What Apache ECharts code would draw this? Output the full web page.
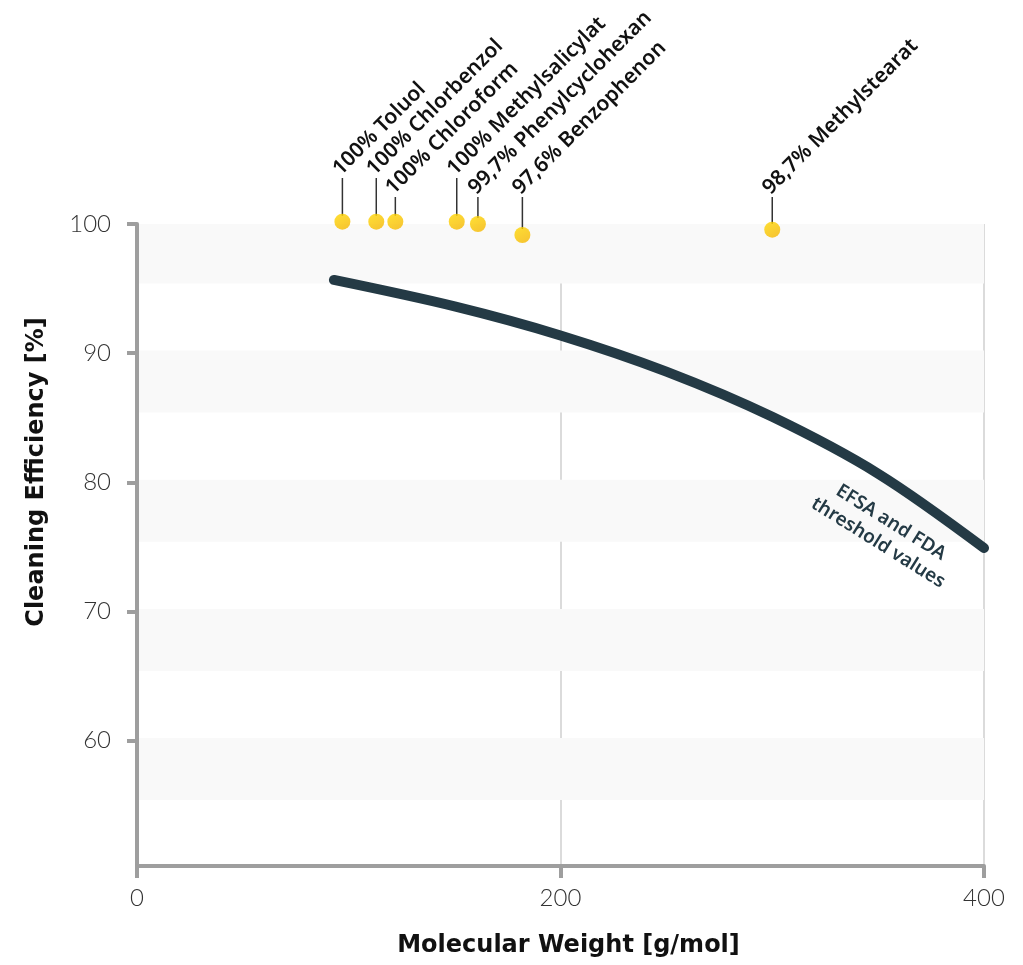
<!DOCTYPE html>
<html>
<head>
<meta charset="utf-8">
<script src="https://cdn.jsdelivr.net/npm/echarts@6/dist/echarts.min.js"></script>
<style>
html,body{margin:0;padding:0;background:#fff;}
#c{width:1023px;height:965px;}
</style>
</head>
<body>
<div id="c"></div>
<script>
// ---- data ----
const solventNames = ['100% Toluol','100% Chlorbenzol','100% Chloroform','100% Methylsalicylat','99,7% Phenylcyclohexan','97,6% Benzophenon','98,7% Methylstearat'];
const solventMW = [97, 113, 122, 151, 161, 182, 300];
const solventEff = [100.18, 100.18, 100.18, 100.18, 100.0, 99.15, 99.56];
const curveMW = [93, 150, 200, 250, 300, 350, 400];
const curveEff = [95.67, 93.62, 91.37, 88.57, 85.07, 80.67, 74.92];
const yTicks = [60, 70, 80, 90, 100];
const xTicks = [0, 200, 400];
const bandRanges = [[100.2, 95.4], [90.2, 85.4], [80.2, 75.4], [70.2, 65.4], [60.2, 55.4]];
const thresholdLabel = 'EFSA and FDA\nthreshold values';
const thresholdAt = [353, 76.1];
// label layout (pixels above the 100% line where leader ends)
const labelLift = [46, 46, 27, 46, 27, 27, 27];

const chart = echarts.init(document.getElementById('c'));
const dotColor = {type:'linear', x:0, y:0, x2:0.6, y2:1, colorStops:[{offset:0,color:'#ffd800'},{offset:1,color:'#f6b900'}]};

const option = {
  animation: false,
  backgroundColor: '#fff',
  grid: {left: 137, right: 39, top: 224, bottom: 99, containLabel: false},
  xAxis: {
    type: 'value', min: 0, max: 400, interval: 200, z: 1,
    name: 'Molecular Weight [g/mol]', nameLocation: 'middle', nameGap: 68,
    nameTextStyle: {fontFamily: 'DejaVu Sans', fontWeight: 'bold', fontSize: 24, color: '#111', padding: [0, 0, 0, 16]},
    axisLine: {show: true, lineStyle: {color: '#9e9e9e', width: 4}},
    axisTick: {show: true, length: 12, lineStyle: {color: '#9e9e9e', width: 4}},
    axisLabel: {fontFamily: 'Lato', fontWeight: 300, fontSize: 24, color: '#333', margin: 20,
      customValues: xTicks},
    splitLine: {show: true, lineStyle: {color: '#cfcfcf', width: 1.5}}
  },
  yAxis: {
    type: 'value', min: 50.3, max: 100, z: 1,
    name: 'Cleaning Efficiency [%]', nameLocation: 'middle', nameGap: 88, nameRotate: 90,
    nameTextStyle: {fontFamily: 'DejaVu Sans', fontWeight: 'bold', fontSize: 24, color: '#111', padding: [0, 0, 0, 146]},
    axisLine: {show: true, lineStyle: {color: '#9e9e9e', width: 4}},
    axisTick: {show: true, length: 10, lineStyle: {color: '#9e9e9e', width: 4}, customValues: yTicks},
    axisLabel: {fontFamily: 'Lato', fontWeight: 300, fontSize: 24, color: '#333', margin: 26, customValues: yTicks},
    splitLine: {show: false}
  },
  series: [
    {
      type: 'line', data: [], z: 0, silent: true,
      markArea: {
        silent: true,
        itemStyle: {color: '#f9f9f9'},
        data: bandRanges.map(b => [{yAxis: b[0]}, {yAxis: b[1]}])
      }
    },
    {
      type: 'line', z: 3, smooth: 0.33, symbol: 'none',
      data: curveMW.map((x, i) => [x, curveEff[i]]),
      lineStyle: {color: '#243a45', width: 10, cap: 'round', join: 'round'},
      markPoint: {
        symbol: 'circle', symbolSize: 0,
        data: [{coord: thresholdAt}],
        label: {show: true, position: 'inside', formatter: thresholdLabel, rotate: -32,
          fontFamily: 'Noto Sans', fontWeight: 600, fontSize: 19, color: '#243a45', lineHeight: 24, align: 'center'}
      }
    },
    {
      type: 'custom', z: 4, clip: false,
      data: solventMW.map((x, i) => [x, solventEff[i], i]),
      renderItem: function (params, api) {
        const i = api.value(2);
        const p = api.coord([api.value(0), api.value(1)]);
        const top = api.coord([api.value(0), 100])[1] - labelLift[i];
        return {
          type: 'group',
          children: [
            {type: 'line', shape: {x1: p[0], y1: p[1] - 6, x2: p[0], y2: top}, style: {stroke: '#333', lineWidth: 1.5}},
            {type: 'text', x: p[0] - 6, y: top - 6, rotation: Math.PI / 4,
              style: {text: solventNames[i], x: 0, y: 0, align: 'left', verticalAlign: 'middle',
                font: '600 21px "Noto Sans"', fill: '#111'}}
          ]
        };
      }
    },
    {
      type: 'scatter', z: 5, symbolSize: 16, clip: false,
      data: solventMW.map((x, i) => [x, solventEff[i]]),
      itemStyle: {color: dotColor}
    }
  ]
};
chart.setOption(option);
</script>
</body>
</html>
